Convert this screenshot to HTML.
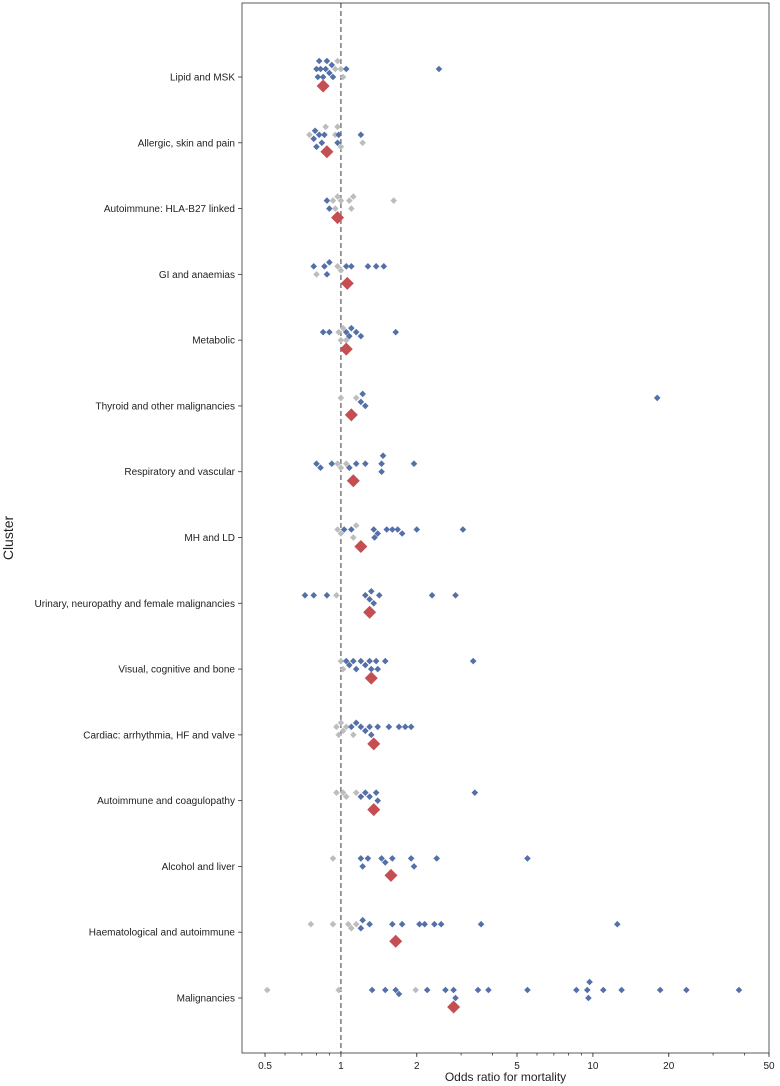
<!DOCTYPE html>
<html><head><meta charset="utf-8"><style>
body{margin:0;background:#fff;}
svg{display:block;font-family:"Liberation Sans","DejaVu Sans",sans-serif;}
</style></head><body>
<svg id="chart" width="780" height="1086" viewBox="0 0 780 1086"></svg>
<script>
const categories=["Lipid and MSK","Allergic, skin and pain","Autoimmune: HLA-B27 linked","GI and anaemias","Metabolic","Thyroid and other malignancies","Respiratory and vascular","MH and LD","Urinary, neuropathy and female malignancies","Visual, cognitive and bone ","Cardiac: arrhythmia, HF and valve","Autoimmune and coagulopathy","Alcohol and liver","Haematological and autoimmune","Malignancies"];
const sigValues=[
[0.8,0.81,0.82,0.83,0.85,0.87,0.88,0.9,0.92,0.93,1.05,2.45],
[0.78,0.79,0.8,0.82,0.84,0.86,0.97,0.98,1.2],
[0.88,0.9],
[0.78,0.86,0.88,0.9,1.05,1.1,1.28,1.38,1.48],
[0.85,0.9,1.05,1.08,1.1,1.15,1.2,1.65],
[1.2,1.22,1.25,18],
[0.8,0.83,0.92,1.08,1.15,1.25,1.45,1.45,1.47,1.95],
[1.03,1.1,1.35,1.36,1.4,1.52,1.6,1.68,1.75,2.0,3.05],
[0.72,0.78,0.88,1.25,1.3,1.32,1.35,1.42,2.3,2.85],
[1.05,1.08,1.12,1.15,1.2,1.25,1.3,1.32,1.38,1.4,1.5,3.35],
[1.1,1.15,1.2,1.25,1.3,1.32,1.4,1.55,1.7,1.8,1.9],
[1.2,1.25,1.3,1.38,1.4,3.4],
[1.2,1.22,1.28,1.45,1.5,1.6,1.9,1.95,2.4,5.5],
[1.2,1.22,1.3,1.6,1.75,2.05,2.15,2.35,2.5,3.6,12.5],
[1.33,1.5,1.65,1.7,2.2,2.6,2.8,2.85,3.5,3.85,5.5,8.6,9.5,9.6,9.7,11,13,18.5,23.5,38]];
const nsValues=[
[0.95,0.97,1.0,1.02],
[0.75,0.87,0.95,0.97,1.0,1.22],
[0.93,0.95,0.97,1.0,1.08,1.1,1.12,1.62],
[0.8,0.97,1.0],
[0.98,1.0,1.02,1.05],
[1.0,1.15],
[0.97,1.0,1.05],
[0.97,1.0,1.12,1.15],
[0.96],
[1.0,1.02],
[0.96,0.98,1.0,1.02,1.05,1.12],
[0.96,1.02,1.05,1.15],
[0.93],
[0.76,0.93,1.07,1.1,1.15],
[0.51,0.98,1.98]];
const meanValues=[0.85,0.88,0.97,1.06,1.05,1.1,1.12,1.2,1.3,1.32,1.35,1.35,1.58,1.65,2.8];
const tickValues=[0.5,1,2,5,10,20,50];
const tickLabels=["0.5","1","2","5","10","20","50"];

const NS="http://www.w3.org/2000/svg";
const svg=document.getElementById('chart');
const L=242,R=769,T=3,B=1053;
const xmin=Math.log10(0.405),xmax=Math.log10(50);
function x(v){return L+(Math.log10(v)-xmin)/(xmax-xmin)*(R-L);}
function y(i){return 77+i*(921/(categories.length-1));}
function el(t,a){const e=document.createElementNS(NS,t);for(const k in a)e.setAttribute(k,a[k]);svg.appendChild(e);return e;}
function diamond(cx,cy,r){return `M${cx},${cy-r}L${cx+r},${cy}L${cx},${cy+r}L${cx-r},${cy}Z`;}

for(let d=-1;d<=1;d++)for(let m=1;m<10;m++){const v=m*Math.pow(10,d);if(v<0.405||v>50)continue;
 const t=el('line',{x1:x(v),x2:x(v),y1:B,y2:B+2.5,stroke:'#333','stroke-width':0.8});
 }
tickValues.forEach((v,i)=>{
 const t=el('line',{x1:x(v),x2:x(v),y1:B,y2:B+4,stroke:'#333','stroke-width':0.8});
 
 const tx=el('text',{x:x(v),y:B+16,'text-anchor':'middle','font-size':10,fill:'#222'});tx.textContent=tickLabels[i];
 
});
const ref=el('line',{x1:x(1),x2:x(1),y1:T,y2:B,stroke:'#666','stroke-width':1.3,'stroke-dasharray':'5,3'});


categories.forEach((c,i)=>{
 const cy=y(i);
 const tk=el('line',{x1:L-4,x2:L,y1:cy,y2:cy,stroke:'#333','stroke-width':0.8});
 
 const lb=el('text',{x:L-7,y:cy+3.5,'text-anchor':'end','font-size':10,fill:'#222'});lb.textContent=c;
 
 const base=cy-8;
 const pts=sigValues[i].map(v=>({v,s:1})).concat(nsValues[i].map(v=>({v,s:0}))).sort((a,b)=>a.v-b.v);
 const placed=[];
 pts.forEach(p=>{
  const px=x(p.v);let off=0;
  const cand=[0,4,-4,8,-8,12,-12];
  for(const o of cand){if(placed.every(q=>Math.hypot(q[0]-px,q[1]-(base+o))>=5)){off=o;break;}}
  placed.push([px,base+off]);
  const d=el('path',{d:diamond(px,base+off,3.3),fill:p.s?'#5470a8':'#bdbdbd'});
  
  
 });
 const m=el('path',{d:diamond(x(meanValues[i]),cy+9,6.5),fill:'#c44e52'});
 
});
const fr=el('rect',{x:L,y:T,width:R-L,height:B-T,fill:'none',stroke:'#333','stroke-width':0.8});

const xl=el('text',{x:(L+R)/2,y:1081,'text-anchor':'middle','font-size':12,fill:'#222'});xl.textContent='Odds ratio for mortality';

const yl=el('text',{x:0,y:0,'text-anchor':'middle','font-size':14,fill:'#222',transform:'translate(13,538) rotate(-90)'});yl.textContent='Cluster';

</script>
</body></html>
